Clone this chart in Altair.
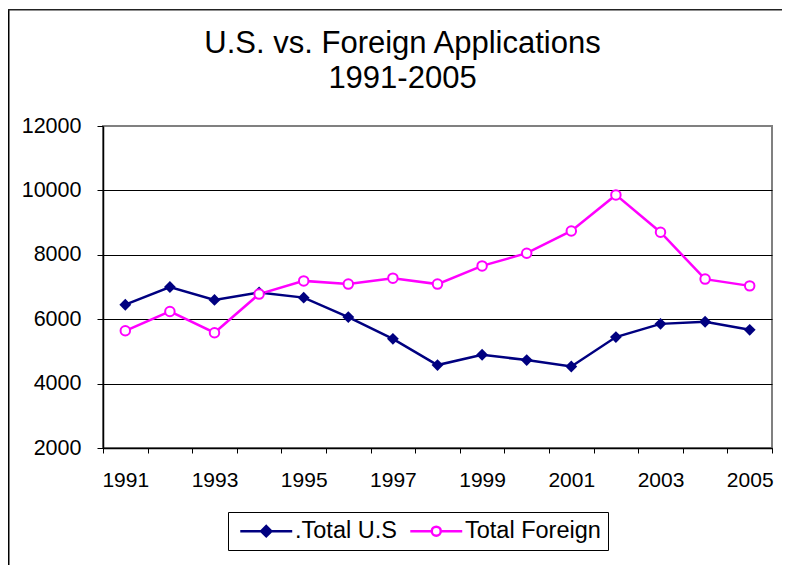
import altair as alt
import pandas as pd

years = list(range(1991, 2006))
us_total = [6450, 7000, 6600, 6830, 6670, 6065, 5390, 4575, 4895, 4730, 4530, 5445, 5855, 5920, 5670]
foreign_total = [5640, 6240, 5580, 6780, 7190, 7090, 7275, 7090, 7655, 8050, 8740, 9860, 8700, 7245, 7035]
series_names = [".Total U.S", "Total Foreign"]
series_colors = ["#000080", "#FF00FF"]
series_fills = ["#000080", "#FFFFFF"]
y_ticks = [2000, 4000, 6000, 8000, 10000, 12000]
x_bounds = [y - 0.5 for y in years] + [years[-1] + 0.5]

df = pd.DataFrame({
    "year": years * 2,
    "series": [series_names[0]] * len(years) + [series_names[1]] * len(years),
    "value": us_total + foreign_total,
})

FONT = "Liberation Sans"
W, H = 669, 322
step = W / len(years)

x_enc = alt.X(
    "year:Q",
    scale=alt.Scale(domain=[years[0] - 0.5, years[-1] + 0.5], nice=False, zero=False),
    axis=alt.Axis(
        values=x_bounds,
        labelExpr="(datum.value + 0.5) % 2 == 1 ? '' + (datum.value + 0.5) : ''",
        labelOffset=step / 2,
        labelOverlap=False,
        labelFlush=False,
        labelFontSize=21,
        labelFont=FONT,
        labelColor="black",
        labelPadding=16,
        tickSize=5,
        tickColor="black",
        domainColor="black",
        domainWidth=1.5,
        grid=False,
        title=None,
    ),
)
y_enc = alt.Y(
    "value:Q",
    scale=alt.Scale(domain=[2000, 12000], nice=False, zero=False),
    axis=alt.Axis(
        values=y_ticks,
        format="d",
        labelFontSize=21.5,
        labelFont=FONT,
        labelColor="black",
        labelPadding=16,
        tickSize=6,
        tickColor="black",
        domainColor="black",
        domainWidth=1.5,
        grid=True,
        gridColor={"condition": {"test": "datum.value == 12000", "value": "#808080"}, "value": "black"},
        gridWidth=1,
        title=None,
    ),
)

us_path = "M-4.33,0L4.33,0M0,-0.85L0.85,0L0,0.85L-0.85,0Z"
fr_path = "M-4.33,0L-0.75,0M0.75,0L4.33,0M0.75,0A0.75,0.75,0,1,1,-0.75,0A0.75,0.75,0,1,1,0.75,0Z"

legend = alt.Legend(
    title=None,
    orient="none",
    legendX=125,
    legendY=386,
    direction="horizontal",
    strokeColor="black",
    fillColor="white",
    padding=7,
    labelFont=FONT,
    labelFontSize=23.5,
    labelColor="black",
    labelOffset=17,
    symbolOffset=19.5,
    symbolSize=144,
    symbolStrokeWidth=2.5,
    symbolOpacity=1,
    columnPadding=8,
)

stroke_enc = alt.Stroke("series:N", scale=alt.Scale(domain=series_names, range=series_colors), legend=legend)
fill_enc = alt.Fill("series:N", scale=alt.Scale(domain=series_names, range=series_fills), legend=legend)
shape_enc = alt.Shape("series:N", scale=alt.Scale(domain=series_names, range=[us_path, fr_path]), legend=legend)

lines = alt.Chart(df).mark_line(strokeWidth=2.5).encode(
    x=x_enc, y=y_enc, stroke=stroke_enc
)

# legend-only layer (no rows drawn), carries the line+marker legend symbols
legend_layer = alt.Chart(df).transform_filter("false").mark_point(
    filled=True, strokeWidth=2.5, opacity=1
).encode(x=x_enc, y=y_enc, stroke=stroke_enc, fill=fill_enc, shape=shape_enc)

us_pts = alt.Chart(df).transform_filter(
    alt.datum.series == series_names[0]
).mark_point(shape="diamond", filled=True, color=series_colors[0], size=140, opacity=1).encode(
    x=x_enc, y=y_enc
)

fr_pts = alt.Chart(df).transform_filter(
    alt.datum.series == series_names[1]
).mark_point(shape="circle", filled=False, fill="white", stroke=series_colors[1],
             strokeWidth=2, size=90, opacity=1, fillOpacity=1).encode(
    x=x_enc, y=y_enc
)

# outer chart frame (left and top edges)
frame_df = pd.DataFrame({"a": [0]})
left_border = alt.Chart(frame_df).mark_rect(color="black").encode(
    x=alt.value(-95), x2=alt.value(-93.5), y=alt.value(-117), y2=alt.value(439)
)
top_border = alt.Chart(frame_df).mark_rect(color="#222222").encode(
    x=alt.value(-95), x2=alt.value(682), y=alt.value(-117), y2=alt.value(-115.5)
)

chart = alt.layer(lines, legend_layer, us_pts, fr_pts, left_border, top_border).properties(
    width=W,
    height=H,
    title=alt.TitleParams(
        text=["U.S. vs. Foreign Applications", "1991-2005"],
        fontSize=31,
        font=FONT,
        fontWeight="normal",
        color="black",
        anchor="middle",
        dx=-35,
        offset=-86,
        lineHeight=35,
    ),
    autosize=alt.AutoSizeParams(type="none"),
    padding={"left": 95, "top": 118, "right": 10, "bottom": 117},
    background="white",
).configure_view(
    stroke="#808080", strokeWidth=2
)

chart.save("out.html", embed_options={"renderer": "svg", "actions": False})
